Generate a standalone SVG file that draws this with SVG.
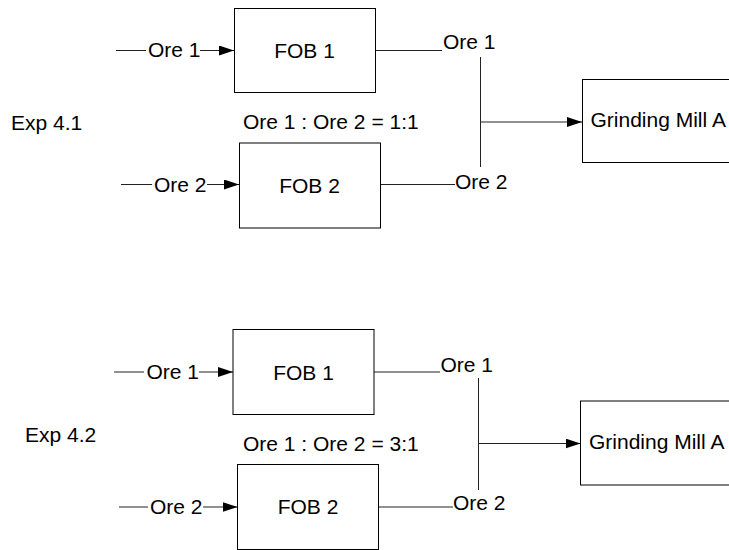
<svg xmlns="http://www.w3.org/2000/svg" width="729" height="550" viewBox="0 0 729 550">
  <style>
    text { font-family: "Liberation Sans", Arial, sans-serif; font-size: 21px; fill: #000; }
    .box { fill: #fff; stroke: #000; stroke-width: 1; }
    .wire { fill: none; stroke: #222; stroke-width: 1; }
    .mid { text-anchor: middle; }
  </style>
  <defs>
    <marker id="arrow" markerUnits="userSpaceOnUse" markerWidth="15" markerHeight="10" refX="15" refY="5" orient="auto">
      <path d="M0,0 L15,5 L0,10 Z" fill="#000"/>
    </marker>
  </defs>
  <rect width="729" height="550" fill="#fff"/>

  <!-- Experiment 4.1 -->
  <text x="11" y="130">Exp 4.1</text>
  <text x="243" y="129">Ore 1 : Ore 2 = 1:1</text>

  <g id="connectors-41">
    <path class="wire" d="M116 50.5 H146"/>
    <path class="wire" d="M200 50.5 H234" marker-end="url(#arrow)"/>
    <path class="wire" d="M375.5 50.5 H442"/>
    <path class="wire" d="M121 184.5 H152"/>
    <path class="wire" d="M207 184.5 H239" marker-end="url(#arrow)"/>
    <path class="wire" d="M380.5 184.5 H455"/>
    <path class="wire" d="M480.5 57 V167"/>
    <path class="wire" d="M480.5 122 H582" marker-end="url(#arrow)"/>
  </g>
  <g id="labels-41">
    <text x="148" y="57">Ore 1</text>
    <text x="154" y="191.5">Ore 2</text>
    <text x="443" y="49">Ore 1</text>
    <text x="455" y="188.5">Ore 2</text>
  </g>
  <g id="fob1-41">
    <rect class="box" x="234.5" y="8.5" width="141" height="84"/>
    <text class="mid" x="304.5" y="58">FOB 1</text>
  </g>
  <g id="fob2-41">
    <rect class="box" x="239.5" y="143" width="141" height="85"/>
    <text class="mid" x="309.5" y="192.5">FOB 2</text>
  </g>
  <g id="mill-41">
    <!-- box runs past the right edge of the canvas -->
    <rect class="box" x="582.5" y="79.5" width="400" height="83"/>
    <text x="590.5" y="127">Grinding Mill A</text>
  </g>

  <!-- Experiment 4.2 -->
  <text x="25" y="441.5">Exp 4.2</text>
  <text x="243" y="450.5">Ore 1 : Ore 2 = 3:1</text>

  <g id="connectors-42">
    <path class="wire" d="M114 372 H144"/>
    <path class="wire" d="M199 372 H233" marker-end="url(#arrow)"/>
    <path class="wire" d="M374 372 H440"/>
    <path class="wire" d="M119 507 H148"/>
    <path class="wire" d="M203 507 H237.5" marker-end="url(#arrow)"/>
    <path class="wire" d="M378.5 507 H453"/>
    <path class="wire" d="M478.5 378 V490"/>
    <path class="wire" d="M478.5 443.5 H580.5" marker-end="url(#arrow)"/>
  </g>
  <g id="labels-42">
    <text x="146.5" y="378.5">Ore 1</text>
    <text x="150" y="513.5">Ore 2</text>
    <text x="440.5" y="371.5">Ore 1</text>
    <text x="453" y="509.5">Ore 2</text>
  </g>
  <g id="fob1-42">
    <rect class="box" x="233" y="329.5" width="141" height="85"/>
    <text class="mid" x="303.5" y="379.5">FOB 1</text>
  </g>
  <g id="fob2-42">
    <rect class="box" x="237.5" y="464.5" width="141" height="85"/>
    <text class="mid" x="308" y="514">FOB 2</text>
  </g>
  <g id="mill-42">
    <!-- box runs past the right edge of the canvas -->
    <rect class="box" x="580.5" y="401" width="400" height="84"/>
    <text x="589" y="448.5">Grinding Mill A</text>
  </g>
</svg>
